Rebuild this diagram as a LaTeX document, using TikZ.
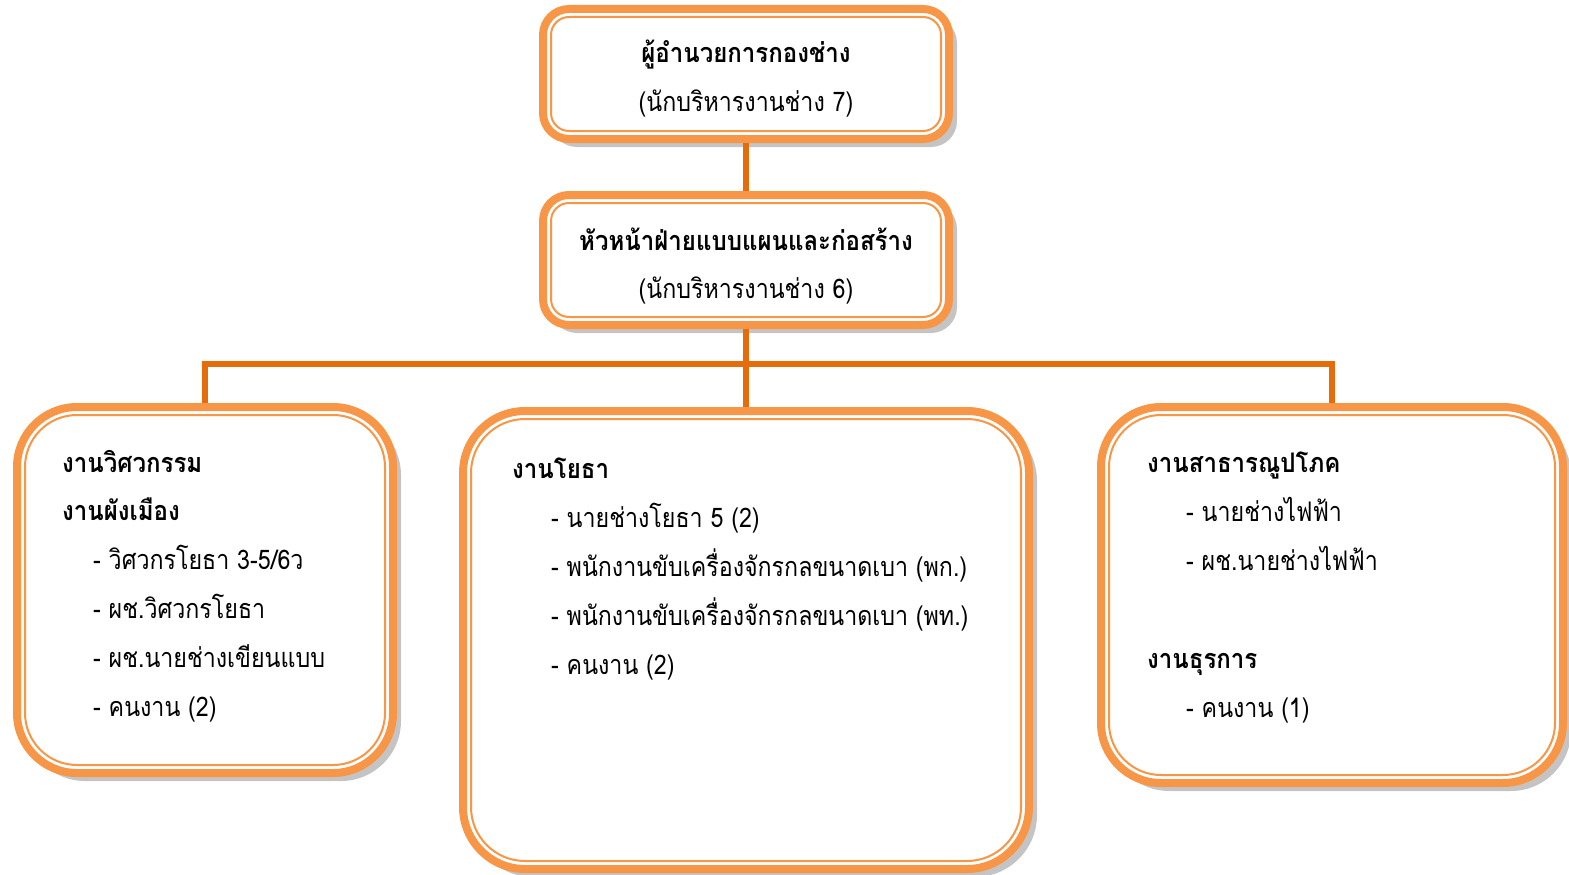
\documentclass[tikz,border=0pt]{standalone}
\usepackage{fontspec}
\newfontfamily\thaifont[Script=Thai,FakeStretch=0.86]{Loma}
\newfontfamily\thaibold[Script=Thai,FakeStretch=0.89]{Loma Bold}
\usetikzlibrary{shadows}
\definecolor{boxorange}{HTML}{F79646}
\definecolor{lineorange}{HTML}{E46C0A}
\definecolor{shadowgray}{HTML}{C4C4C4}
\begin{document}
\begin{tikzpicture}[x=1pt,y=-1pt,
  outerbox/.style={draw=boxorange, line width=8pt, fill=white, inner sep=0pt,
    drop shadow={shadow xshift=8pt, shadow yshift=-8pt, fill=shadowgray, opacity=1}},
  innerbox/.style={draw=boxorange, line width=2pt, inner sep=0pt},
  conn/.style={draw=lineorange, line width=6pt},
  txt/.style={inner sep=0pt, anchor=base west, font=\thaifont\fontsize{27}{30}\selectfont},
  ctxt/.style={inner sep=0pt, anchor=base, font=\thaifont\fontsize{27}{30}\selectfont},
  bold/.style={font=\thaibold\fontsize{27}{30}\selectfont}
]
\useasboundingbox (0,0) rectangle (1569,875);
\coordinate (bus) at (746,364);

% top box
\node[outerbox, rounded corners=26pt, minimum width=406pt, minimum height=130pt] (b1) at (746,74) {};
\node[innerbox, rounded corners=18pt, minimum width=390pt, minimum height=114pt] (b1i) at (b1.center) {};
% second box
\node[outerbox, rounded corners=26pt, minimum width=406pt, minimum height=130pt] (b2) at (746,260) {};
\node[innerbox, rounded corners=18pt, minimum width=390pt, minimum height=114pt] (b2i) at (b2.center) {};
% left box
\node[outerbox, rounded corners=60pt, minimum width=376pt, minimum height=366pt] (bl) at (205,590) {};
\node[innerbox, rounded corners=52pt, minimum width=360pt, minimum height=350pt] (bli) at (bl.center) {};
% center box
\node[outerbox, rounded corners=62pt, minimum width=566pt, minimum height=458pt] (bc) at (746,640) {};
\node[innerbox, rounded corners=54pt, minimum width=550pt, minimum height=442pt] (bci) at (bc.center) {};
% right box
\node[outerbox, rounded corners=60pt, minimum width=462pt, minimum height=376pt] (br) at (1332,595) {};
\node[innerbox, rounded corners=52pt, minimum width=446pt, minimum height=360pt] (bri) at (br.center) {};

\draw[conn] (b1.south) -- (b2.north);
\draw[conn] (b2.south) -- (bc.north);
\draw[conn] (bl.north) |- (bus) -| (br.north);

% texts
\node[ctxt, bold] (t1a) at (746,63) {ผู้อำนวยการกองช่าง};
\node[ctxt] (t1b) at (746,111) {(นักบริหารงานช่าง 7)};
\node[ctxt, bold] (t2a) at (746,250) {หัวหน้าฝ่ายแบบแผนและก่อสร้าง};
\node[ctxt] (t2b) at (746,298) {(นักบริหารงานช่าง 6)};

\node[txt, bold] (l1) at (62,472) {งานวิศวกรรม};
\node[txt, bold] (l2) at (62,520) {งานผังเมือง};
\node[txt] (l3) at (93,569) {- วิศวกรโยธา 3-5/6ว};
\node[txt] (l4) at (93,618) {- ผช.วิศวกรโยธา};
\node[txt] (l5) at (93,667) {- ผช.นายช่างเขียนแบบ};
\node[txt] (l6) at (93,716) {- คนงาน (2)};

\node[txt, bold] (c1) at (512,478) {งานโยธา};
\node[txt] (c2) at (551,527) {- นายช่างโยธา 5 (2)};
\node[txt] (c3) at (551,576) {- พนักงานขับเครื่องจักรกลขนาดเบา (พก.)};
\node[txt] (c4) at (551,625) {- พนักงานขับเครื่องจักรกลขนาดเบา (พท.)};
\node[txt] (c5) at (551,674) {- คนงาน (2)};

\node[txt, bold] (r1) at (1147,472) {งานสาธารณูปโภค};
\node[txt] (r2) at (1186,521) {- นายช่างไฟฟ้า};
\node[txt] (r3) at (1186,570) {- ผช.นายช่างไฟฟ้า};
\node[txt, bold] (r4) at (1147,668) {งานธุรการ};
\node[txt] (r5) at (1186,717) {- คนงาน (1)};
\end{tikzpicture}
\end{document}
